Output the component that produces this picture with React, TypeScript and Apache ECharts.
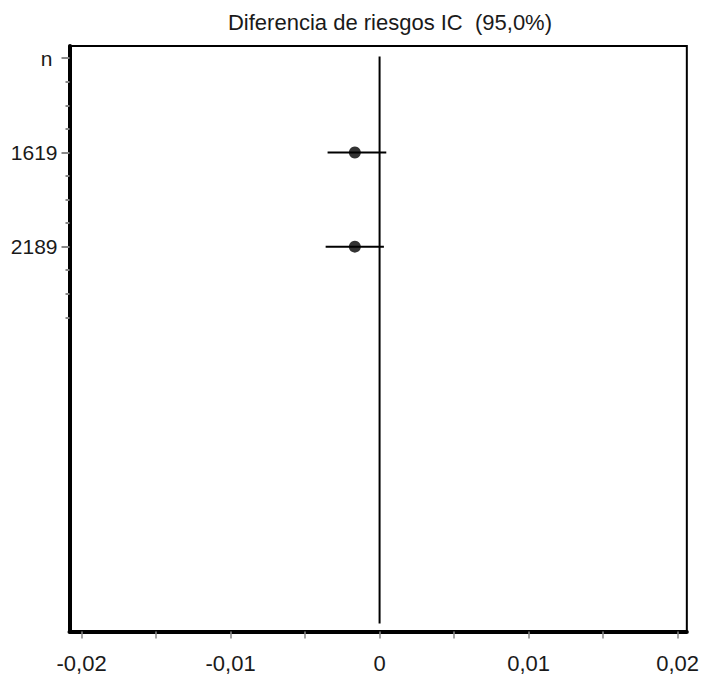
import React, { useEffect, useRef } from "react";
import * as echarts from "echarts";

// ---- data ----
const titleText = "Diferencia de riesgos IC  (95,0%)";
const rowLabels = ["n", "1619", "2189"];
const rowPositions = [0, 4, 8];
const minorRowPositions = [1, 2, 3, 5, 6, 7, 9, 10, 11];
const studyRows = [4, 8];
const pointEstimates = [-0.00166, -0.00166];
const ciLow = [-0.00349, -0.00362];
const ciHigh = [0.00045, 0.00029];
const xTickValues = [-0.02, -0.015, -0.01, -0.005, 0, 0.005, 0.01, 0.015, 0.02];
const xLabelValues = [-0.02, -0.01, 0, 0.01, 0.02];
const zeroLineRows = [-0.07, 24];
const xRange = [-0.02081, 0.02062];
const yRange = [-0.52, 24.34];

const FONT = "'Liberation Sans', Arial, sans-serif";

export default function App() {
  const ref = useRef<HTMLDivElement>(null);

  useEffect(() => {
    if (!ref.current) return;
    const chart = echarts.init(ref.current, undefined, { renderer: "svg" });

    const ciData = studyRows.map((r, i) => [ciLow[i], ciHigh[i], r]);
    const pointData = studyRows.map((r, i) => [pointEstimates[i], r]);

    const option: any = {
      animation: false,
      backgroundColor: "#fff",
      title: {
        text: titleText,
        left: 385,
        top: 6,
        textAlign: "center",
        textStyle: {
          fontFamily: FONT,
          fontSize: 22,
          fontWeight: "normal",
          color: "#1a1a1a",
        },
      },
      grid: {
        left: 69.5,
        top: 46,
        right: 11,
        bottom: 43.5,
        show: true,
        borderColor: "#000",
        borderWidth: 2,
        backgroundColor: "#fff",
      },
      xAxis: {
        type: "value",
        min: xRange[0],
        max: xRange[1],
        axisLine: { show: true, onZero: false, lineStyle: { color: "#000", width: 4 } },
        axisTick: {
          show: true,
          length: 7,
          customValues: xTickValues,
          lineStyle: { color: "#888", width: 1.5 },
        },
        axisLabel: {
          customValues: xLabelValues,
          margin: 21,
          fontFamily: FONT,
          fontSize: 22,
          color: "#1a1a1a",
          formatter: (v: number) =>
            Math.abs(v) < 1e-9 ? "0" : v.toFixed(2).replace(".", ","),
        },
        splitLine: { show: false },
      },
      yAxis: [
        {
          type: "value",
          inverse: true,
          min: yRange[0],
          max: yRange[1],
          position: "left",
          axisLine: { show: true, onZero: false, lineStyle: { color: "#000", width: 4 } },
          axisTick: {
            show: true,
            length: 8,
            customValues: rowPositions,
            lineStyle: { color: "#888", width: 2 },
          },
          axisLabel: {
            customValues: rowPositions,
            margin: 12,
            fontFamily: FONT,
            fontSize: 21,
            color: "#1a1a1a",
            formatter: (v: number) => {
              const idx = rowPositions.indexOf(Math.round(v));
              const s = idx >= 0 ? rowLabels[idx] : "";
              return s === "n" ? "{n|n}" : s;
            },
            rich: {
              n: {
                fontFamily: FONT,
                fontSize: 21,
                color: "#1a1a1a",
                padding: [0, 5, 0, 0],
              },
            },
          },
          splitLine: { show: false },
        },
        {
          type: "value",
          inverse: true,
          min: yRange[0],
          max: yRange[1],
          position: "left",
          offset: 0,
          axisLine: { show: false, onZero: false },
          axisTick: {
            show: true,
            length: 4,
            customValues: minorRowPositions,
            lineStyle: { color: "#888", width: 2 },
          },
          axisLabel: { show: false },
          splitLine: { show: false },
        },
      ],
      series: [
        {
          type: "line",
          data: zeroLineRows.map((r) => [0, r]),
          symbol: "none",
          lineStyle: { color: "#000", width: 2 },
          silent: true,
          z: 2,
        },
        {
          type: "custom",
          data: ciData,
          encode: { x: [0, 1], y: 2 },
          renderItem: (params: any, api: any) => {
            const y = api.value(2);
            const p1 = api.coord([api.value(0), y]);
            const p2 = api.coord([api.value(1), y]);
            return {
              type: "line",
              shape: { x1: p1[0], y1: p1[1], x2: p2[0], y2: p2[1] },
              style: { stroke: "#000", lineWidth: 2 },
            };
          },
          z: 3,
        },
        {
          type: "scatter",
          data: pointData,
          symbol: "circle",
          symbolSize: 12,
          itemStyle: { color: "#000" },
          z: 4,
        },
      ],
    };

    chart.setOption(option);
    return () => chart.dispose();
  }, []);

  return (
    <div
      ref={ref}
      style={{ position: "fixed", left: 0, top: 0, width: 702, height: 675, background: "#fff" }}
    />
  );
}
